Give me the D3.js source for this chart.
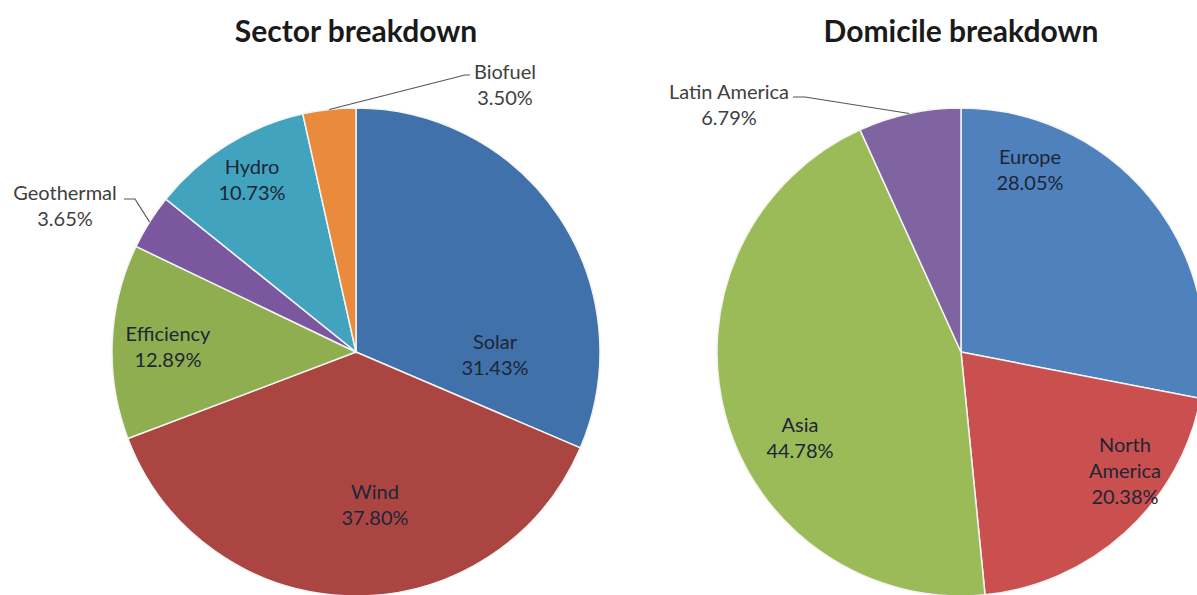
<!DOCTYPE html>
<html>
<head>
<meta charset="utf-8">
<script src="https://cdn.jsdelivr.net/npm/d3@7"></script>
<style>
  html, body { margin: 0; padding: 0; background: #fff; }
  svg { display: block; }
  text { font-family: Lato, "Open Sans", sans-serif; }
</style>
</head>
<body>
<svg id="chart" width="1197" height="595"></svg>
<script>
// sector pie
var sectorNames = ["Solar", "Wind", "Efficiency", "Geothermal", "Hydro", "Biofuel"];
var sectorValues = [31.43, 37.80, 12.89, 3.65, 10.73, 3.50];
var sectorColors = ["#4171aa", "#ab4542", "#8fae50", "#7a579f", "#42a3be", "#ea8a3c"];

// domicile pie
var domicileNames = ["Europe", "North America", "Asia", "Latin America"];
var domicileValues = [28.05, 20.38, 44.78, 6.79];
var domicileColors = ["#4f81bd", "#c9504e", "#9bbb59", "#8064a2"];

var svg = d3.select("#chart");
var radius = 244;

// label placement relative to pie centre (Excel "best fit" look)
var labelPos = {
	"Solar": { dx: 139, dy: -10 },
	"Wind": { dx: 19, dy: 140 },
	"Efficiency": { dx: -188, dy: -18 },
	"Hydro": { dx: -104, dy: -185 },
	"Geothermal": { dx: -291, dy: -159, outside: true, elbow: [-221, -153], end: [-232, -153] },
	"Biofuel": { dx: 149, dy: -280, outside: true, elbow: [109, -277], end: [114, -277] },
	"Europe": { dx: 69, dy: -195 },
	"North America": { dx: 164, dy: 93, lines: ["North", "America"] },
	"Asia": { dx: -161, dy: 73 },
	"Latin America": { dx: -232, dy: -260, outside: true, elbow: [-156, -255], end: [-168, -255] }
};

function drawPie(cx, cy, title, names, values, colors) {
	var g = svg.append("g").attr("transform", "translate(" + cx + "," + cy + ")");

	var pie = d3.pie().sort(null).value(function(d) { return d; });
	var arc = d3.arc().innerRadius(0).outerRadius(radius);
	var arcs = pie(values);

	g.selectAll("path.slice")
		.data(arcs)
		.enter().append("path")
		.attr("class", "slice")
		.attr("d", arc)
		.attr("fill", function(d, i) { return colors[i]; })
		.attr("stroke", "#f4f4f4")
		.attr("stroke-width", 1.5);

	svg.append("text")
		.attr("x", cx)
		.attr("y", 42)
		.attr("text-anchor", "middle")
		.attr("font-size", 30)
		.attr("font-weight", "bold")
		.attr("fill", "#1a1a1a")
		.text(title);

	arcs.forEach(function(d, i) {
		var name = names[i];
		var p = labelPos[name];
		var lines = (p.lines || [name]).concat([d3.format(".2f")(values[i]) + "%"]);

		if (p.outside) {
			var mid = (d.startAngle + d.endAngle) / 2;
			var tip = [radius * Math.sin(mid), -radius * Math.cos(mid)];
			g.append("polyline")
				.attr("points", [tip, p.elbow, p.end].map(function(q) { return q.join(","); }).join(" "))
				.attr("fill", "none")
				.attr("stroke", "#555")
				.attr("stroke-width", 1.2);
		}

		var t = g.append("text")
			.attr("text-anchor", "middle")
			.attr("font-size", 20)
			.attr("fill", p.outside ? "#404040" : "#1c2636");

		lines.forEach(function(s, k) {
			t.append("tspan")
				.attr("x", p.dx)
				.attr("y", p.dy + k * 26)
				.attr("dy", "0.35em")
				.text(s);
		});
	});
}

drawPie(356, 352, "Sector breakdown", sectorNames, sectorValues, sectorColors);
drawPie(961, 352, "Domicile breakdown", domicileNames, domicileValues, domicileColors);
</script>
</body>
</html>
